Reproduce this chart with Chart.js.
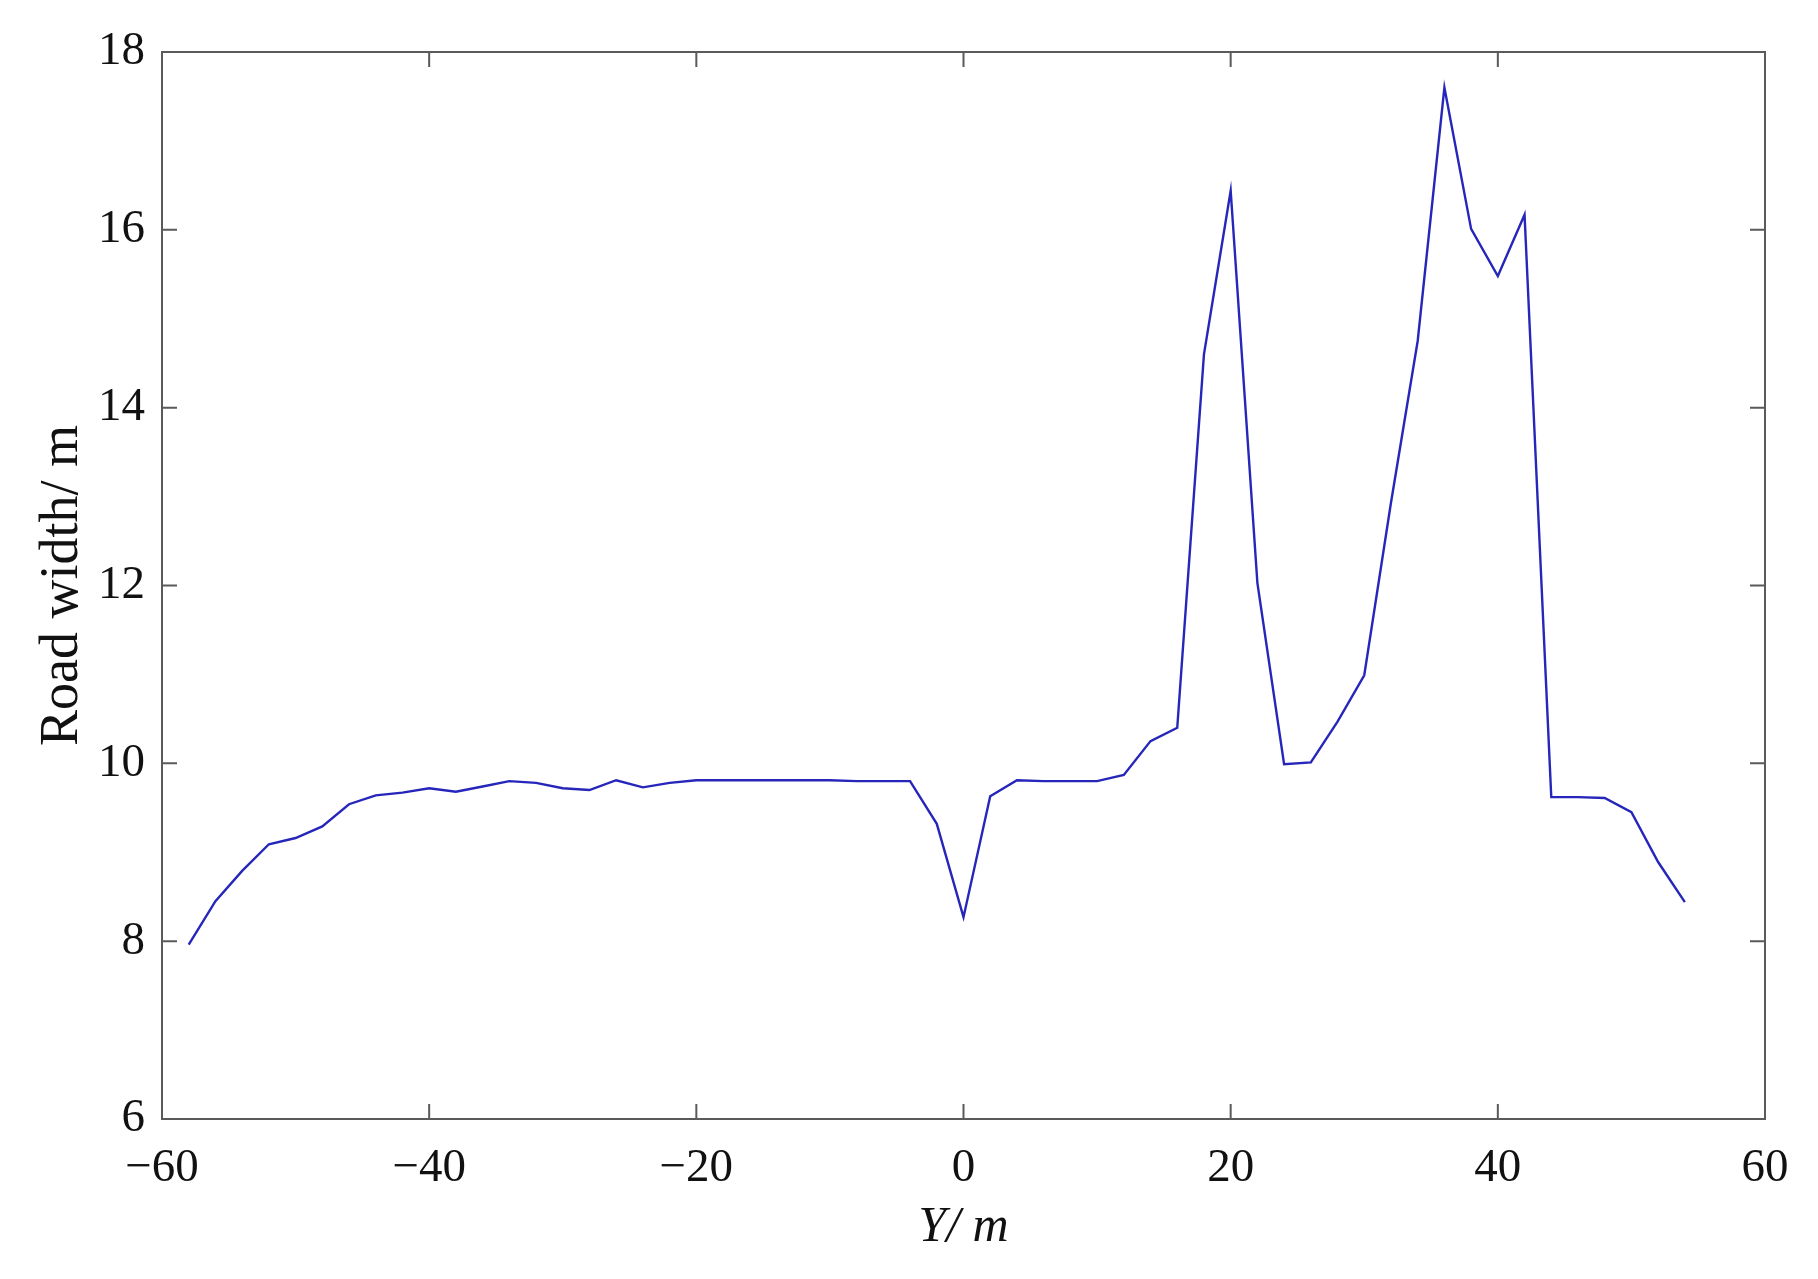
<!DOCTYPE html>
<html>
<head>
<meta charset="utf-8">
<script src="https://cdn.jsdelivr.net/npm/chart.js@4/dist/chart.umd.min.js"></script>
<style>
  html, body { margin: 0; padding: 0; background: #fff; }
  #wrap { width: 1818px; height: 1279px; }
</style>
</head>
<body>
<div id="wrap"><canvas id="myChart" width="1818" height="1279"></canvas></div>
<script>
"use strict";
// DATA
const yPos = [-58, -56, -54, -52, -50, -48, -46, -44, -42, -40, -38, -36, -34, -32, -30, -28, -26, -24, -22, -20,
  -18, -16, -14, -12, -10, -8, -6, -4, -2, 0, 2, 4, 6, 8, 10, 12, 14, 16, 18, 20,
  22, 24, 26, 28, 30, 32, 34, 36, 38, 40, 42, 44, 46, 48, 50, 52, 54];
const roadWidth = [7.96, 8.45, 8.79, 9.09, 9.16, 9.29, 9.54, 9.64, 9.67, 9.72, 9.68, 9.74, 9.80, 9.78, 9.72, 9.70, 9.81, 9.73, 9.78, 9.81,
  9.81, 9.81, 9.81, 9.81, 9.81, 9.80, 9.80, 9.80, 9.32, 8.27, 9.63, 9.81, 9.80, 9.80, 9.80, 9.87, 10.25, 10.40, 14.60, 16.44,
  12.03, 9.99, 10.01, 10.47, 10.99, 12.93, 14.75, 17.60, 16.01, 15.48, 16.17, 9.62, 9.62, 9.61, 9.45, 8.89, 8.44];
const xTicks = [-60, -40, -20, 0, 20, 40, 60];
const yTicks = [6, 8, 10, 12, 14, 16, 18];

const points = yPos.map((x, i) => ({ x: x, y: roadWidth[i] }));
const fmt = (v) => (v < 0 ? "\u2212" + Math.abs(v) : String(v));

// box + inward ticks like matlab
const boxPlugin = {
  id: "box",
  afterDraw(chart) {
    const { ctx, chartArea: a, scales } = chart;
    const tl = 15;
    ctx.save();
    ctx.strokeStyle = "#5a5a5a";
    ctx.lineWidth = 2;
    ctx.strokeRect(a.left, a.top, a.right - a.left, a.bottom - a.top);
    ctx.beginPath();
    xTicks.forEach((t) => {
      const px = scales.x.getPixelForValue(t);
      ctx.moveTo(px, a.bottom); ctx.lineTo(px, a.bottom - tl);
      ctx.moveTo(px, a.top); ctx.lineTo(px, a.top + tl);
    });
    yTicks.forEach((t) => {
      const py = scales.y.getPixelForValue(t);
      ctx.moveTo(a.left, py); ctx.lineTo(a.left + tl, py);
      ctx.moveTo(a.right, py); ctx.lineTo(a.right - tl, py);
    });
    ctx.stroke();
    ctx.restore();
  },
};

const serif = "'Liberation Serif', 'Times New Roman', serif";

const config = {
  type: "line",
  data: {
    datasets: [
      {
        data: points,
        borderColor: "#2626bb",
        borderWidth: 2.4,
        pointRadius: 0,
        tension: 0,
        fill: false,
      },
    ],
  },
  options: {
    responsive: false,
    animation: false,
    layout: { padding: { top: 52, right: 53, left: 0, bottom: 0 } },
    plugins: { legend: { display: false }, tooltip: { enabled: false } },
    scales: {
      x: {
        type: "linear",
        min: -60,
        max: 60,
        afterBuildTicks: (s) => { s.ticks = xTicks.map((v) => ({ value: v })); },
        afterFit: (s) => { s.height = 160; },
        grid: { display: false, drawTicks: false },
        border: { display: false },
        ticks: { color: "#111", font: { family: serif, size: 47 }, padding: 21, maxRotation: 0, callback: fmt },
        title: { display: true, text: "Y/ m", color: "#111", font: { family: serif, size: 50, style: "italic" }, padding: { bottom: 21 } },
      },
      y: {
        type: "linear",
        min: 6,
        max: 18,
        afterBuildTicks: (s) => { s.ticks = yTicks.map((v) => ({ value: v })); },
        afterFit: (s) => { s.width = 162; },
        grid: { display: false, drawTicks: false },
        border: { display: false },
        ticks: { color: "#111", font: { family: serif, size: 47 }, padding: 17, callback: fmt },
        title: { display: true, text: "Road width/ m", color: "#111", font: { family: serif, size: 54 }, padding: { top: 30 } },
      },
    },
  },
  plugins: [boxPlugin],
};

const myChart = new Chart(document.getElementById("myChart"), config);
</script>
</body>
</html>
